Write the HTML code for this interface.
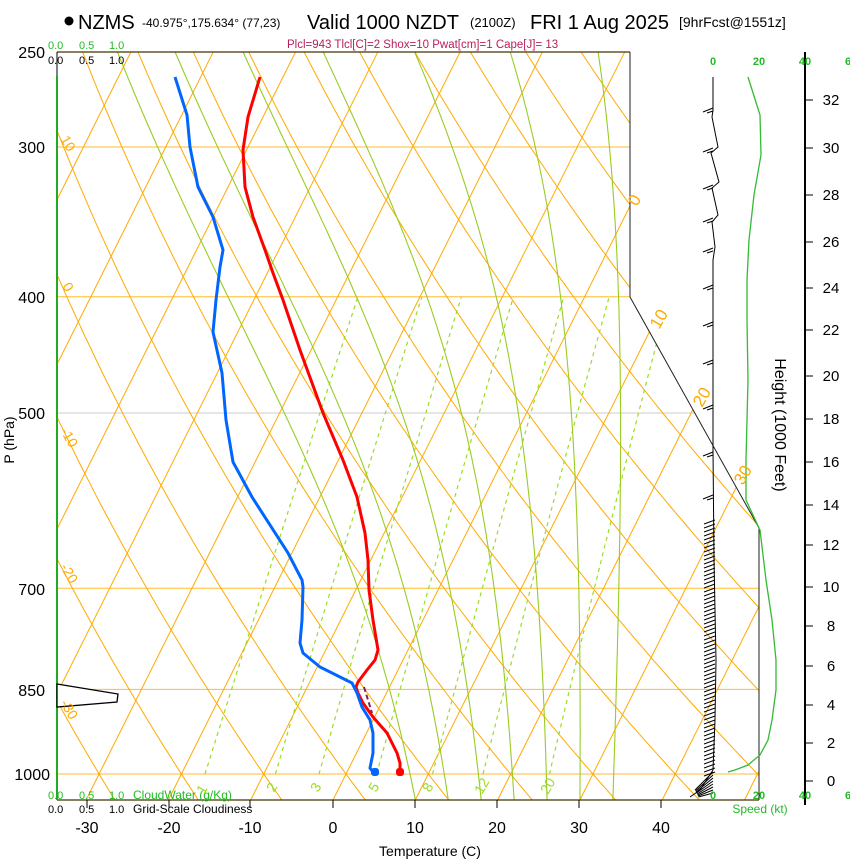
<!DOCTYPE html>
<html><head><meta charset="utf-8"><style>
body{margin:0;background:#fff;width:850px;height:860px;overflow:hidden;font-family:"Liberation Sans",sans-serif}
svg{position:absolute;left:0;top:0}
</style></head><body>
<svg id="s" width="850" height="860" xmlns="http://www.w3.org/2000/svg" font-family="Liberation Sans, sans-serif">
<defs><clipPath id="cp"><polygon points="57,52 630,52 630,297 759,528 759,800 57,800"/></clipPath></defs>
<g id="grid" clip-path="url(#cp)" fill="none"></g>
<polyline points="630,52 630,297 759,528 759,800" fill="none" stroke="#222" stroke-width="1"/>
<line x1="57" y1="52" x2="630" y2="52" stroke="#443300" stroke-width="1.2"/>
<line x1="57" y1="800" x2="759" y2="800" stroke="#443300" stroke-width="1.2"/>
<line x1="57" y1="52" x2="57" y2="76" stroke="#000" stroke-width="1"/>
<line x1="57" y1="76" x2="57" y2="800" stroke="#22aa22" stroke-width="2"/>
<polygon points="57,684 118,694 117,702 57,707" fill="#fff" stroke="#000" stroke-width="1.3"/>
<g stroke="#000" stroke-width="1">
<line x1="87" y1="800" x2="87" y2="808"/><line x1="169" y1="800" x2="169" y2="808"/><line x1="250" y1="800" x2="250" y2="808"/><line x1="333" y1="800" x2="333" y2="808"/><line x1="415" y1="800" x2="415" y2="808"/><line x1="497" y1="800" x2="497" y2="808"/><line x1="579" y1="800" x2="579" y2="808"/><line x1="661" y1="800" x2="661" y2="808"/>
</g>
<polyline fill="none" stroke="#ff0000" stroke-width="3" points="260,77 248,117 243,150 245,187 253,217 265,250 273,273 283,300 300,350 323,413 343,460 357,497 365,533 368,560 369,590 373,620 378,650 375,660 367,670 358,682 356,687 358,693 363,703 373,717 387,733 397,753 400,763 400,772"/>
<polyline fill="none" stroke="#0066ff" stroke-width="3" points="175,77 187,115 190,147 198,187 213,217 223,250 220,267 216,300 213,332 222,373 226,420 233,462 252,497 288,553 302,580 303,587 302,620 300,643 303,653 320,667 352,683 357,693 362,707 370,720 373,733 373,753 370,768 373,772"/>
<line x1="364" y1="687" x2="372" y2="713" stroke="#882255" stroke-width="2" stroke-dasharray="5,3"/>
<rect x="396" y="768" width="8" height="8" rx="3" fill="#ff0000"/>
<rect x="371" y="768" width="8" height="8" rx="3" fill="#0066ff"/>
<g id="wind" stroke="#000" stroke-width="1" fill="none"></g>
<polyline fill="none" stroke="#33bb33" stroke-width="1.3" points="748,77 760,115 761,155 754,195 749,240 747,280 747,320 748,380 746,460 746,500 760,530 766,580 772,620 776,660 776,690 772,720 768,740 760,755 748,765 735,770 728,772"/>
<line x1="805" y1="52" x2="805" y2="805" stroke="#000" stroke-width="2"/>
<g id="hticks" stroke="#000" stroke-width="1"></g>
<g font-size="15" fill="#000" text-anchor="middle">
<text x="831" y="786">0</text><text x="831" y="748">2</text><text x="831" y="710">4</text><text x="831" y="671">6</text><text x="831" y="631">8</text><text x="831" y="592">10</text><text x="831" y="550">12</text><text x="831" y="510">14</text><text x="831" y="467">16</text><text x="831" y="424">18</text><text x="831" y="381">20</text><text x="831" y="335">22</text><text x="831" y="293">24</text><text x="831" y="247">26</text><text x="831" y="200">28</text><text x="831" y="153">30</text><text x="831" y="105">32</text>
</g>
<text transform="translate(775,425) rotate(90)" font-size="16" text-anchor="middle">Height (1000 Feet)</text>
<g font-size="11" fill="#22bb22" font-weight="bold" text-anchor="middle">
<text x="713" y="65">0</text><text x="759" y="65">20</text><text x="805" y="65">40</text><text x="848" y="65">6</text>
<text x="713" y="799">0</text><text x="759" y="799">20</text><text x="805" y="799">40</text><text x="848" y="799">6</text>
</g>
<text x="760" y="813" font-size="12" fill="#22bb22" text-anchor="middle">Speed (kt)</text>
<circle cx="69" cy="21" r="4.5" fill="#000"/>
<text x="78" y="29" font-size="20">NZMS</text>
<text x="142" y="27" font-size="12">-40.975°,175.634° (77,23)</text>
<text x="307" y="29" font-size="20">Valid 1000 NZDT</text>
<text x="470" y="27" font-size="13">(2100Z)</text>
<text x="530" y="29" font-size="20">FRI 1 Aug 2025</text>
<text x="679" y="27" font-size="14">[9hrFcst@1551z]</text>
<text x="287" y="48" font-size="11.5" fill="#b8205a">Plcl=943 Tlcl[C]=2 Shox=10 Pwat[cm]=1 Cape[J]= 13</text>
<g font-size="11" fill="#22bb22"><text x="48" y="49">0.0</text><text x="79" y="49">0.5</text><text x="109" y="49">1.0</text>
<text x="48" y="799">0.0</text><text x="79" y="799">0.5</text><text x="109" y="799">1.0</text><text x="133" y="799" font-size="12">CloudWater (g/Kg)</text></g>
<g font-size="11" fill="#000"><text x="48" y="64">0.0</text><text x="79" y="64">0.5</text><text x="109" y="64">1.0</text>
<text x="48" y="813">0.0</text><text x="79" y="813">0.5</text><text x="109" y="813">1.0</text><text x="133" y="813" font-size="12">Grid-Scale Cloudiness</text></g>
<g font-size="16" fill="#000" text-anchor="end">
<text x="45" y="58">250</text><text x="45" y="153">300</text><text x="45" y="303">400</text><text x="45" y="419">500</text><text x="45" y="595">700</text><text x="45" y="696">850</text><text x="50" y="780">1000</text>
</g>
<text transform="translate(14,440) rotate(-90)" font-size="14" text-anchor="middle">P (hPa)</text>
<g font-size="16" fill="#000" text-anchor="middle">
<text x="87" y="833">-30</text><text x="169" y="833">-20</text><text x="250" y="833">-10</text><text x="333" y="833">0</text><text x="415" y="833">10</text><text x="497" y="833">20</text><text x="579" y="833">30</text><text x="661" y="833">40</text>
</g>
<text x="430" y="856" font-size="14" text-anchor="middle">Temperature (C)</text>
<g font-size="14" fill="#ffaa00">
<text transform="translate(60,139) rotate(60)">10</text>
<text transform="translate(62,286) rotate(60)">0</text>
<text transform="translate(60,431) rotate(60)">-10</text>
<text transform="translate(60,567) rotate(60)">-20</text>
<text transform="translate(60,703) rotate(60)">-30</text>
<text transform="translate(637,207) rotate(-60)" font-size="17">0</text>
<text transform="translate(659,330) rotate(-60)" font-size="17">10</text>
<text transform="translate(702,408) rotate(-60)" font-size="17">20</text>
<text transform="translate(743,486) rotate(-60)" font-size="17">30</text>
</g>
<g font-size="14" fill="#99dd22">
<text transform="translate(204,795) rotate(-60)">1</text>
<text transform="translate(274,793) rotate(-60)">2</text>
<text transform="translate(318,793) rotate(-60)">3</text>
<text transform="translate(376,793) rotate(-60)">5</text>
<text transform="translate(430,793) rotate(-60)">8</text>
<text transform="translate(482,795) rotate(-60)">12</text>
<text transform="translate(548,795) rotate(-60)">20</text>
</g>
</svg>
<script>
(function(){
var NS="http://www.w3.org/2000/svg";
function yOf(p){return 774-520.8*Math.log(1000/p);}
function xOf(T,y){return 333+8.23*T+0.5*(800-y);}
var g=document.getElementById('grid');
function pl(pts,col,w,dash){var e=document.createElementNS(NS,'polyline');e.setAttribute('points',pts.map(function(a){return a[0].toFixed(1)+','+a[1].toFixed(1)}).join(' '));e.setAttribute('stroke',col);e.setAttribute('stroke-width',w);e.setAttribute('fill','none');if(dash)e.setAttribute('stroke-dasharray',dash);g.appendChild(e);}
[[300,'#ffbb33'],[400,'#ffbb33'],[500,'#cccccc'],[700,'#ffbb33'],[850,'#ffbb33'],[1000,'#ffbb33']].forEach(function(a){var y=yOf(a[0]);pl([[57,y],[760,y]],a[1],1);});
for(var T=-130;T<=50;T+=10){pl([[xOf(T,800),800],[xOf(T,40),40]],'#ffaa00',1);}
for(var th=-40;th<=200;th+=10){var pts=[];for(var p=1060;p>=240;p-=10){var Tk=(th+273.15)*Math.pow(p/1000,0.2857)-273.15;var y=yOf(p);pts.push([xOf(Tk,y),y]);}pl(pts,'#ffaa00',1);}
function es(T){return 6.112*Math.exp(17.67*T/(T+243.5));}
[1,2,3,5,8,12,20].forEach(function(w){var pts=[];for(var p=1000;p>=400;p-=10){var e=w*p/(622+w);var l=Math.log(e/6.112);var Td=243.5*l/(17.67-l);var y=yOf(p);pts.push([xOf(Td,y),y]);}pl(pts,'#99dd22',1.2,'4,4');});
[10,14,18,22,26,30,34].forEach(function(Tb){var T=Tb+273.15,p=1051,pts=[];var Rd=287,cp=1004,Lv=2.5e6,eps=0.622;
 while(p>=245){var y=yOf(p);pts.push([xOf(T-273.15,y),y]);var e=es(T-273.15);var rs=eps*e/(p-e);
 var dTdp=(Rd*T+Lv*rs)/(cp+Lv*Lv*rs*eps/(Rd*T*T))/p;T-=dTdp*5;p-=5;}
 pl(pts,'#99cc22',1.1);});
var wg=document.getElementById('wind');
function ln(x1,y1,x2,y2){var e=document.createElementNS(NS,'line');e.setAttribute('x1',x1);e.setAttribute('y1',y1);e.setAttribute('x2',x2);e.setAttribute('y2',y2);wg.appendChild(e);}
var st=[[713,77],[713,110],[712,117],[718,147],[711,153],[719,182],[712,188],[718,215],[712,222],[715,247],[713,260],[713,450],[714,560],[716,660],[715,720],[713,770],[700,790],[690,797]];
var e=document.createElementNS(NS,'polyline');e.setAttribute('points',st.map(function(a){return a.join(',')}).join(' '));wg.appendChild(e);
[[108],[148],[185],[218],[248],[285],[322],[360],[405],[452],[495]].forEach(function(a){ln(713,a[0],703,a[0]+4);ln(713,a[0]+3,707,a[0]+5);});
for(var y=520;y<775;y+=4){ln(715,y,704,y+4);}
for(var k=0;k<8;k++){ln(713,772+k*3,695+k*0.5,790+k);}
var hg=document.getElementById('hticks');
[781,743,705,666,626,587,545,505,462,419,376,330,288,242,195,148,100].forEach(function(y){var l=document.createElementNS(NS,'line');l.setAttribute('x1',805);l.setAttribute('x2',813);l.setAttribute('y1',y);l.setAttribute('y2',y);hg.appendChild(l);});
})();
</script>
</body></html>
